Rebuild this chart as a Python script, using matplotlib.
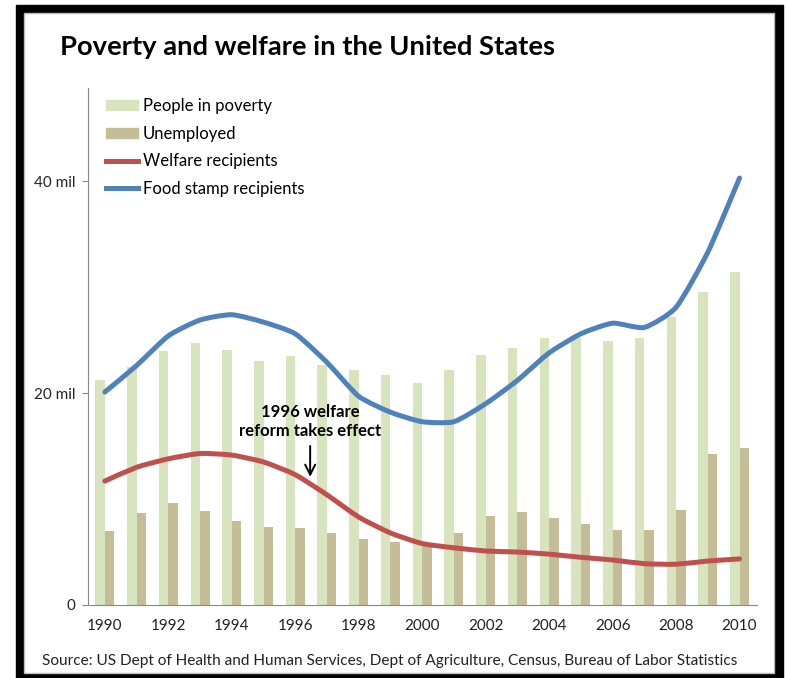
import matplotlib
matplotlib.use("Agg")
import matplotlib.pyplot as plt
from matplotlib.patches import Rectangle, PathPatch, Patch
from matplotlib.lines import Line2D
from matplotlib.path import Path
import numpy as np

plt.rcParams["font.family"] = ["Lato", "DejaVu Sans"]

years = list(range(1990, 2011))
poverty = [21.2, 22.5, 24.0, 24.7, 24.1, 23.0, 23.5, 22.7, 22.2, 21.7, 21.0,
           22.2, 23.6, 24.3, 25.2, 25.2, 24.9, 25.2, 27.2, 29.5, 31.4]
unemployed = [7.0, 8.65, 9.6, 8.9, 7.95, 7.4, 7.26, 6.8, 6.2, 5.9, 5.66,
              6.8, 8.4, 8.8, 8.2, 7.6, 7.05, 7.05, 9.0, 14.3, 14.8]
welfare = [11.7, 13.0, 13.8, 14.3, 14.15, 13.5, 12.3, 10.4, 8.3, 6.8, 5.8,
           5.4, 5.1, 5.0, 4.8, 4.5, 4.25, 3.9, 3.85, 4.15, 4.35]
food_stamps = [20.1, 22.6, 25.4, 26.9, 27.4, 26.7, 25.6, 22.9, 19.7, 18.2, 17.3,
               17.3, 19.0, 21.2, 23.8, 25.6, 26.6, 26.2, 28.1, 33.3, 40.3]
yticks = [0, 20, 40]
ytick_labels = ["0", "20 mil", "40 mil"]

GREEN, TAN, RED, BLUE = "#D7E4BD", "#C4BD97", "#C0504D", "#4F81BD"


def smooth_path(xs, ys, k=10):
    # lightly smoothed line: bezier segments through the data points
    p = np.column_stack([xs, ys]).astype(float)
    ext = np.vstack([p[0], p, p[-1]])
    verts = [p[0]]
    codes = [Path.MOVETO]
    for i in range(len(p) - 1):
        c1 = ext[i + 1] + (ext[i + 2] - ext[i]) / k
        c2 = ext[i + 2] - (ext[i + 3] - ext[i + 1]) / k
        verts += [c1, c2, p[i + 1]]
        codes += [Path.CURVE4] * 3
    return Path(verts, codes)


W, H = 787, 678
fig = plt.figure(figsize=(W / 100, H / 100), dpi=100)

# black frame around the chart
fig.patches.append(Rectangle((16 / W, 0), 767 / W, 1 - 5 / H,
                             transform=fig.transFigure, color="black", zorder=-3))
fig.patches.append(Rectangle((24 / W, 5 / H), 750 / W, 1 - 18 / H,
                             transform=fig.transFigure, facecolor="white",
                             edgecolor="#bbbbbb", lw=1, zorder=-2))

ax = fig.add_axes([88 / W, 1 - 605 / H, 669 / W, 517 / H])
ax.patch.set_alpha(0)

x = np.array(years)
ax.bar(x - 0.15, poverty, width=0.3, color=GREEN, zorder=1)
ax.bar(x + 0.15, unemployed, width=0.3, color=TAN, zorder=1)
for vals, col in [(welfare, RED), (food_stamps, BLUE)]:
    ax.add_patch(PathPatch(smooth_path(x, vals), facecolor="none", edgecolor=col,
                           lw=3.6, joinstyle="round", capstyle="round", zorder=2))

ax.set_xlim(1989.47, 2010.55)
ax.set_ylim(0, 48.8)
ax.set_xticks(years[::2])
ax.set_xticklabels([str(y) for y in years[::2]], fontsize=11, color="#222222")
ax.set_yticks(yticks)
ax.set_yticklabels(ytick_labels, fontsize=11, color="#222222")
ax.tick_params(axis="x", length=0, pad=10)
ax.tick_params(axis="y", length=4, color="#888888", pad=5)
for side in ["top", "right"]:
    ax.spines[side].set_visible(False)
for side in ["left", "bottom"]:
    ax.spines[side].set_color("#888888")

handles = [Patch(color=GREEN), Patch(color=TAN),
           Line2D([], [], color=RED, lw=3.6), Line2D([], [], color=BLUE, lw=3.6)]
labels = ["People in poverty", "Unemployed", "Welfare recipients", "Food stamp recipients"]
ax.legend(handles, labels, loc="upper left", bbox_to_anchor=(0.012, 1.0), frameon=False,
          fontsize=12, handlelength=1.9, handleheight=0.6, handletextpad=0.3,
          labelspacing=0.7, borderaxespad=0.2)

ax.annotate("1996 welfare\nreform takes effect", xy=(1996.47, 12.1),
            xytext=(1996.47, 17.3), ha="center", va="center",
            fontsize=12, fontweight="bold", linespacing=1.2,
            arrowprops=dict(arrowstyle="->,head_length=0.6,head_width=0.3",
                            color="black", lw=1.4, shrinkA=3, shrinkB=0))

fig.text(60 / W, 1 - 47 / H, "Poverty and welfare in the United States",
         fontsize=19.7, fontweight="bold", va="center", ha="left")
fig.text(390 / W, 1 - 661 / H,
         "Source: US Dept of Health and Human Services, Dept of Agriculture, Census, Bureau of Labor Statistics",
         fontsize=11.1, ha="center", va="center", color="#222222")

fig.savefig("out.png", dpi=100)
